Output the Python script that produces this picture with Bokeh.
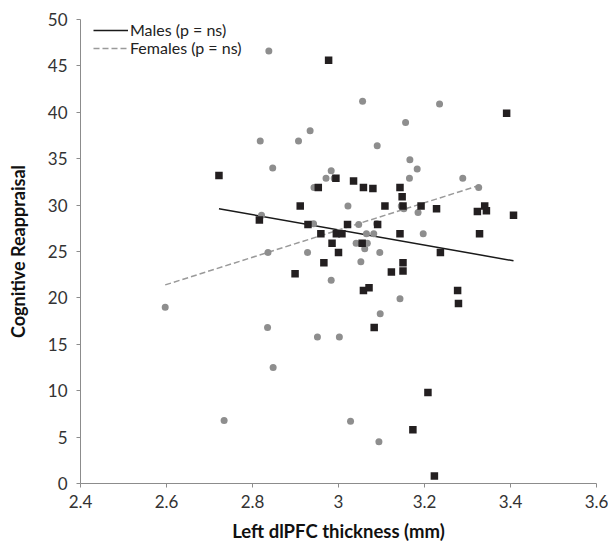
import numpy as np
from bokeh.plotting import figure
from bokeh.models import FixedTicker, CustomJSTickFormatter, Legend, LegendItem
from bokeh.embed import file_html
from bokeh.resources import INLINE

# Males (squares)
male_x = [2.722, 2.816, 2.899, 2.911, 2.929, 2.953, 2.959, 2.966, 2.977, 2.985,
          2.994, 2.995, 3.000, 3.008, 3.021, 3.035, 3.055, 3.058, 3.058, 3.071,
          3.080, 3.083, 3.091, 3.108, 3.123, 3.143, 3.143, 3.148, 3.150, 3.150,
          3.150, 3.173, 3.192, 3.208, 3.223, 3.228, 3.237, 3.277, 3.279, 3.323,
          3.328, 3.340, 3.344, 3.391, 3.407]
male_y = [33.2, 28.4, 22.6, 29.9, 27.9, 31.9, 26.9, 23.8, 45.6, 25.9,
          32.9, 26.9, 24.9, 26.9, 27.9, 32.6, 25.9, 31.9, 20.8, 21.1,
          31.8, 16.8, 27.9, 29.9, 22.8, 31.9, 26.9, 30.9, 29.9, 23.8,
          22.9, 5.8, 29.9, 9.8, 0.8, 29.6, 24.9, 20.8, 19.4, 29.3,
          26.9, 29.9, 29.4, 39.9, 28.9]

# Females (circles)
female_x = [2.597, 2.734, 2.818, 2.821, 2.835, 2.836, 2.838, 2.847, 2.848, 2.907,
            2.928, 2.934, 2.942, 2.943, 2.951, 2.971, 2.983, 2.983, 2.990, 3.002,
            3.022, 3.028, 3.041, 3.047, 3.052, 3.056, 3.061, 3.065, 3.067, 3.082,
            3.089, 3.090, 3.094, 3.096, 3.097, 3.143, 3.146, 3.152, 3.156, 3.165,
            3.166, 3.183, 3.185, 3.197, 3.235, 3.289, 3.326]
female_y = [19.0, 6.8, 36.9, 28.9, 16.8, 24.9, 46.6, 34.0, 12.5, 36.9,
            24.9, 38.0, 28.0, 31.9, 15.8, 32.9, 33.7, 21.9, 32.9, 15.8,
            29.9, 6.7, 25.9, 27.9, 23.9, 41.2, 25.3, 26.9, 25.9, 26.9,
            28.0, 36.4, 4.5, 24.9, 18.3, 19.9, 29.9, 29.6, 38.9, 32.9,
            34.9, 33.9, 29.2, 26.9, 40.9, 32.9, 31.9]

# Trend line end values, drawn over each group's x span
male_trend_y = [29.6, 24.0]
female_trend_y = [21.4, 32.1]

series_labels = ["Males (p = ns)", "Females (p = ns)"]
x_ticks = [2.4, 2.6, 2.8, 3.0, 3.2, 3.4, 3.6]
y_ticks = [0, 5, 10, 15, 20, 25, 30, 35, 40, 45, 50]

FONT = "Lato"

p = figure(width=608, height=545, x_range=(2.4, 3.6), y_range=(0, 50),
           output_backend="svg", toolbar_location=None,
           min_border_left=80, min_border_right=12, min_border_top=19,
           min_border_bottom=62)
p.outline_line_color = None
p.xgrid.visible = False
p.ygrid.visible = False

male_trend_x = [min(male_x), max(male_x)]
female_trend_x = [min(female_x), max(female_x)]

lm = p.line(male_trend_x, male_trend_y, line_color="#1a1a1a", line_width=1.5)
lf = p.line(female_trend_x, female_trend_y, line_color="#9a9a9a", line_width=1.5,
            line_dash="6 3")

p.scatter(female_x, female_y, marker="circle", size=7, fill_color="#8e8e8e",
          line_color=None)
p.scatter(male_x, male_y, marker="square", size=7.5, fill_color="#231f20",
          line_color=None)


def make_legend(label, renderer, loc):
    lg = Legend(items=[LegendItem(label=label, renderers=[renderer])], location=loc)
    lg.background_fill_alpha = 0
    lg.border_line_color = None
    lg.margin = 0
    lg.padding = 0
    lg.spacing = 0
    lg.glyph_width = 35
    lg.glyph_height = 16
    lg.label_height = 16
    lg.label_standoff = 2
    lg.label_text_font = FONT
    lg.label_text_font_size = "16px"
    lg.label_text_color = "#222222"
    return lg


p.add_layout(make_legend(series_labels[0], lm, (13, 444)))
p.add_layout(make_legend(series_labels[1], lf, (13, 426)))

for ax in (p.xaxis[0], p.yaxis[0]):
    ax.axis_line_color = "#8c8c8c"
    ax.major_tick_line_color = "#8c8c8c"
    ax.major_tick_in = 0
    ax.major_tick_out = 4
    ax.minor_tick_line_color = None
    ax.major_label_text_font = FONT
    ax.major_label_text_font_size = "17px"
    ax.major_label_text_color = "#333333"
    ax.axis_label_text_font = FONT
    ax.axis_label_text_font_style = "bold"
    ax.axis_label_text_color = "#111111"

p.xaxis.axis_label_text_font_size = "18.5px"
p.yaxis.axis_label_text_font_size = "18px"
p.xaxis.ticker = FixedTicker(ticks=x_ticks)
p.yaxis.ticker = FixedTicker(ticks=y_ticks)
p.xaxis.formatter = CustomJSTickFormatter(code="return String(Math.round(tick*10)/10);")
p.xaxis.axis_label = "Left dlPFC thickness (mm)"
p.yaxis.axis_label = "Cognitive Reappraisal"
p.xaxis.major_label_standoff = 7
p.yaxis.major_label_standoff = 9
p.xaxis.axis_label_standoff = 9
p.yaxis.axis_label_standoff = 16

open("out.html", "w").write(file_html(p, INLINE))
